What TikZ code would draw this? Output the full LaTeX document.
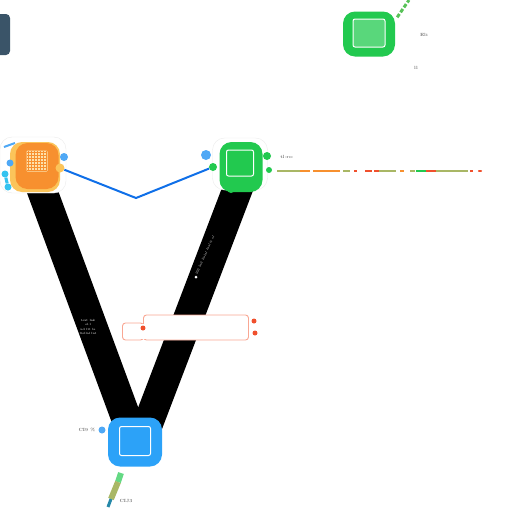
\documentclass[tikz,border=0pt]{standalone}
\usepackage{xcolor}
\usetikzlibrary{positioning, calc, backgrounds}
\definecolor{orangefill}{HTML}{F7902F}
\definecolor{orangelight}{HTML}{FBC45A}
\definecolor{greenfill}{HTML}{22C94F}
\definecolor{bluefill}{HTML}{2CA2F8}
\definecolor{linkblue}{HTML}{0F6FE8}
\definecolor{dotblue}{HTML}{4FA8F5}
\definecolor{cyanblue}{HTML}{35C3F0}
\definecolor{boxred}{HTML}{F9A793}
\definecolor{dotred}{HTML}{F0502D}
\definecolor{slatebox}{HTML}{3A5468}
\definecolor{khaki}{HTML}{A9B765}
\tikzset{
  appbox/.style={rounded corners=12pt, inner sep=0pt},
  innerbox/.style={draw=white, line width=1pt, rounded corners=2pt, inner sep=0pt},
  halo/.style={draw=black!8, fill=white, rounded corners=12pt, inner sep=0pt},
  dotnode/.style={circle, inner sep=0pt, minimum size=#1},
  tinytext/.style={font=\fontsize{4.5}{5}\selectfont, text=black!75, inner sep=0pt},
  barlink/.style={line width=30pt, black},
  redbox/.style={draw=boxred, line width=0.9pt, fill=white, rounded corners=3pt, inner sep=0pt},
}
\begin{document}
\begin{tikzpicture}[x=1pt,y=-1pt]
      \useasboundingbox (0,0) rectangle (512,512);
      % app boxes
      \node[halo, minimum width=66, minimum height=56] (orangehalo) at (33,165) {};
      \node[appbox, fill=orangelight, minimum width=50, minimum height=50] (orangebase) at (35,167) {};
      \node[appbox, fill=orangefill, minimum width=43, minimum height=46] (orangebox) at (37,166) {};
      \node[fill=orangelight!50, rounded corners=1pt, inner sep=0pt, minimum width=21, minimum height=21] (orangeinner) at (37,161) {};
      \draw[orangefill, line width=0.5pt, step=3pt, shift={(orangeinner.center)}] (-10pt,-10pt) grid (10pt,10pt);
      \node[halo, minimum width=55, minimum height=52] (greenhalo) at (240,164) {};
      \node[appbox, fill=greenfill, minimum width=43, minimum height=50] (greenbox) at (241,167) {};
      \node[innerbox, minimum width=27, minimum height=26] (greeninner) at (240,163) {};
      \node[appbox, fill=bluefill, minimum width=54, minimum height=49] (bluebox) at (135,442) {};
      \node[innerbox, minimum width=31, minimum height=29] (blueinner) at (135,441) {};
      \node[appbox, fill=greenfill, minimum width=52, minimum height=45] (topbox) at (369,34) {};
      \node[innerbox, fill=greenfill!75!white, minimum width=32, minimum height=28] (topinner) at (369,33) {};
      \node[fill=slatebox, rounded corners=4pt, minimum width=20, minimum height=41, inner sep=0pt] (sidebox) at (0,34.5) {};
      % small dots
      \node[dotnode=8, fill=dotblue] (orangedot) at (64,157) {};
      \node[dotnode=9, fill=orangelight] (orangeport) at (60,168) {};
      \node[dotnode=7, fill=dotblue] (orangeleft) at (10,163) {};
      \node[dotnode=7, fill=cyanblue] (orangecyan) at (8,187) {};
      \node[dotnode=7, fill=cyanblue] (orangecyanb) at (5,174) {};
      \node[dotnode=10, fill=dotblue] (greendot) at (206,155) {};
      \node[dotnode=8, fill=greenfill] (greenport) at (213,167) {};
      \node[dotnode=8, fill=greenfill] (greenright) at (267,156) {};
      \node[dotnode=6, fill=greenfill] (greenlow) at (269,170) {};
      \node[dotnode=8, fill=greenfill] (greenbottom) at (231,189) {};
      \node[dotnode=7, fill=dotblue] (bluedot) at (102,430) {};
      % connectors
      \begin{scope}[on background layer]
        \draw[barlink] ($(orangebox.center)+(-4,0)$) -- (bluebox.center);
        \draw[barlink] ($(greenbox.center)+(5,0)$) -- ($(bluebox.center)+(6,0)$);
      \end{scope}
      \draw[cyanblue, line width=3pt] (orangecyanb) -- (orangecyan);
      \draw[dotblue, line width=2pt] (4,147) -- (15,143);
      \coordinate (linkbend) at (136,198);
      \draw[linkblue, line width=2pt] (orangeport) -- (linkbend) -- (greenport);
      % coloured dashes
      \coordinate (greenend) at (481,171);
      \foreach \dashstart/\dashend/\dashcolor in {277/300/khaki,300/310/orangefill,313/335/orangefill,335/340/orangefill,343/350/khaki,354/357/dotred,365/372/dotred,374/380/dotred,379/396/khaki,400/404/orangefill,410/415/khaki,416/426/greenfill,426/436/dotred,436/468/khaki,470/473/dotred}
        \draw[\dashcolor, line width=2pt] (\dashstart,171) -- (\dashend,171);
      \draw[dotred, line width=2.5pt, line cap=round] (479,171) -- (greenend);
      \coordinate (topend) at (409,0);
      \draw[greenfill!60!khaki, line width=3pt, dash pattern=on 4pt off 2pt] (topbox.north east) ++(2,6) -- (topend);
      \coordinate (tailmid) at (111,499);
      \coordinate (tailend) at (108,507);
      \draw[greenfill!70!white, line width=6pt] (121,473) -- (118,482);
      \draw[khaki, line width=6pt] (118,482) -- (tailmid);
      \draw[cyanblue!70!black, line width=3pt] (tailmid) -- (tailend);
      % label box
      \node[redbox, minimum width=105, minimum height=25] (labelbox) at (196,327.5) {};
      \node[redbox, minimum width=21, minimum height=17] (labelstub) at (133,331.5) {};
      \node[fill=white, minimum width=20, minimum height=15, inner sep=0pt] (labelfill) at (146,331.5) {};
      \node[dotnode=5, fill=dotred] (labeldot) at (143,328) {};
      \node[dotnode=5, fill=dotred] (labelreda) at (254,321) {};
      \node[dotnode=5, fill=dotred] (labelredb) at (255,333) {};
      % small texts
      \node[tinytext] (toplabel) at (424,35) {Eli};
      \node[tinytext] (toplabelb) at (416,68) {ll};
      \node[tinytext] (greenlabel) at (287,157) {tl:ro:};
      \node[tinytext] (bluelabel) at (87,430) {CI9 \%};
      \node[tinytext] (taillabel) at (126,501) {CIJ3};
      \node[tinytext, text=white, align=center, font=\fontsize{3}{4.5}\selectfont] (barlabela) at (88,327) {text lnk\\el.l\\ud ltt la\\ltollal lnt};
      \node[tinytext, text=white, rotate=66, font=\fontsize{3}{3}\selectfont] (barlabelb) at (205,255) {lllll lntl ltolal lnal tt ol};
      \node[dotnode=3, fill=white] (bardot) at (196,277) {};
    \end{tikzpicture}
\end{document}
